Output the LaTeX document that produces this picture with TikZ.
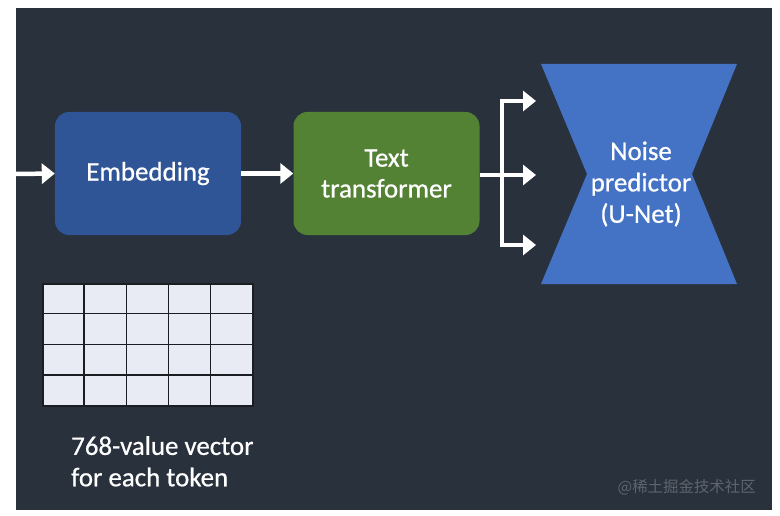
\documentclass[tikz,border=0pt]{standalone}
\usepackage{fontspec}
\setmainfont{Carlito}[FakeBold=0.7]
\newfontfamily\cjk{Noto Sans CJK SC}
\usetikzlibrary{arrows.meta,calc}
\definecolor{bgdark}{HTML}{29313C}
\definecolor{embblue}{HTML}{2F5597}
\definecolor{ttgreen}{HTML}{548235}
\definecolor{unetblue}{HTML}{4472C4}
\definecolor{gridfill}{HTML}{E8EAF4}
\definecolor{gridline}{HTML}{1A1D22}
\definecolor{wmgray}{HTML}{5F656E}
\tikzset{
  box/.style={rounded corners=14bp, minimum width=186bp, minimum height=123bp, inner sep=0pt, text=white, align=center, font=\fontsize{27}{31}\selectfont},
  conn/.style={draw=white, line width=4.5bp, -{Triangle[length=13bp,width=20bp]}},
  lbl/.style={text=white, align=center, font=\fontsize{27}{31.5}\selectfont, inner sep=0pt}
}
\begin{document}
\begin{tikzpicture}[x=1bp,y=-1bp]
\useasboundingbox (0,0) rectangle (780,516);
\fill[white] (0,0) rectangle (780,516);
\fill[bgdark] (16,8) rectangle (772,510);
% nodes
\coordinate (in) at (16,174);
\node[box, fill=embblue] (emb) at (148,173.5) {Embedding};
\node[box, fill=ttgreen] (tt) at (386.5,173.5) {Text\\transformer};
% hourglass
\coordinate (h1) at (541,64);
\coordinate (h2) at (737,64);
\coordinate (h3) at (692,174);
\coordinate (h4) at (737,284);
\coordinate (h5) at (541,284);
\coordinate (h6) at (587,174);
\fill[unetblue] (h1) -- (h2) -- (h3) -- (h4) -- (h5) -- (h6) -- cycle;
\node[lbl] (unet) at (641,184) {Noise\\predictor\\(U-Net)};
% connectors
\draw[conn] (in) -- (emb.west);
\draw[conn] (emb.east) -- (tt.west);
\coordinate (j) at (502,175);
\coordinate (a1) at (536,101);
\coordinate (a2) at (536,175);
\coordinate (a3) at (536,245);
\draw[conn] (tt.east |- j) -- (a2);
\draw[conn] (j) |- (a1);
\draw[conn] (j) |- (a3);
% grid
\node[draw=gridline, fill=gridfill, line width=1.5bp, minimum width=210bp, minimum height=122bp, inner sep=0pt] (grid) at (148,345) {};
\foreach \i in {1,2,3,4} \draw[gridline, line width=1.5bp] ($(grid.north west)+(42*\i,0)$) -- ($(grid.south west)+(42*\i,0)$);
\foreach \j in {1,2,3} \draw[gridline, line width=1.5bp] ($(grid.north west)+(0,30.5*\j)$) -- ($(grid.north east)+(0,30.5*\j)$);
\node[lbl, align=left, anchor=north west] (cap) at (71,436) {768-value vector\\for each token};
\node[text=wmgray, font=\cjk\fontsize{15.5}{17}\selectfont, inner sep=0pt, anchor=east] (wm) at (756,487) {@稀土掘金技术社区};
\end{tikzpicture}
\end{document}
